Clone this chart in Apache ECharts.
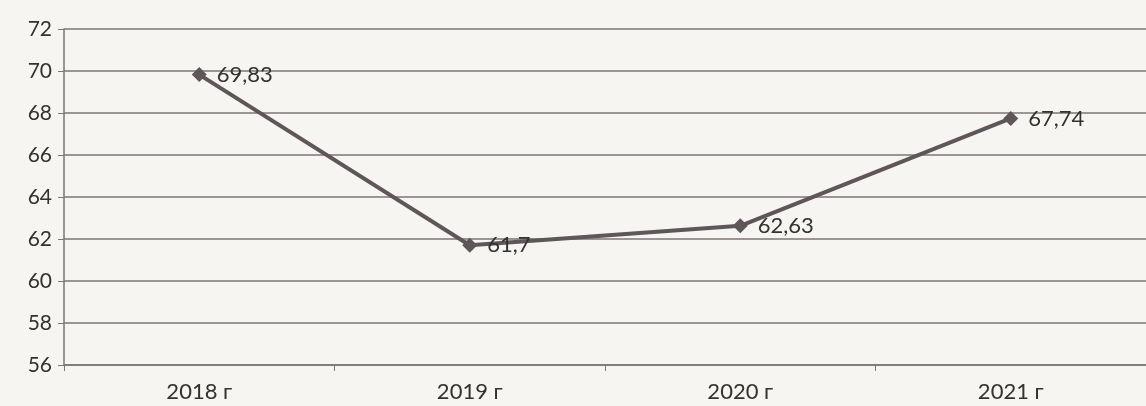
<!DOCTYPE html>
<html><head><meta charset="utf-8">
<script src="https://cdn.jsdelivr.net/npm/echarts@6/dist/echarts.min.js"></script>
<style>html,body{margin:0;padding:0;background:#f6f5f1;}#c{width:1146px;height:406px;}</style>
</head><body><div id="c"></div>
<script>
const categories = ['2018 г', '2019 г', '2020 г', '2021 г'];
const values = [69.83, 61.7, 62.63, 67.74];
const labels = ['69,83', '61,7', '62,63', '67,74'];
const yTicks = {min: 56, max: 72, step: 2};

const chart = echarts.init(document.getElementById('c'));
chart.setOption({
  backgroundColor: '#f6f5f1',
  animation: false,
  grid: {left: 64, top: 29, right: 0, height: 336},
  xAxis: {
    type: 'category', data: categories, boundaryGap: true,
    axisLine: {lineStyle: {color: '#7d7577', width: 1.5}},
    axisTick: {show: true, length: 6, lineStyle: {color: '#7d7577'}},
    axisLabel: {color: '#333131', fontFamily: 'Lato', fontSize: 22, margin: 16}
  },
  yAxis: {
    type: 'value', min: yTicks.min, max: yTicks.max, interval: yTicks.step,
    axisLine: {show: true, lineStyle: {color: '#7d7577', width: 1.5}},
    axisTick: {show: true, length: 6, lineStyle: {color: '#7d7577'}},
    axisLabel: {color: '#333131', fontFamily: 'Lato', fontSize: 21, margin: 12},
    splitLine: {lineStyle: {color: '#7d7577', width: 1.5}}
  },
  series: [{
    type: 'line',
    data: values,
    symbol: 'diamond', symbolSize: 15,
    lineStyle: {color: '#5e5658', width: 4},
    itemStyle: {color: '#5e5658'},
    label: {
      show: true, position: 'right', distance: 10,
      color: '#333131', fontFamily: 'Lato', fontSize: 22,
      formatter: p => labels[p.dataIndex]
    }
  }]
});
</script></body></html>
